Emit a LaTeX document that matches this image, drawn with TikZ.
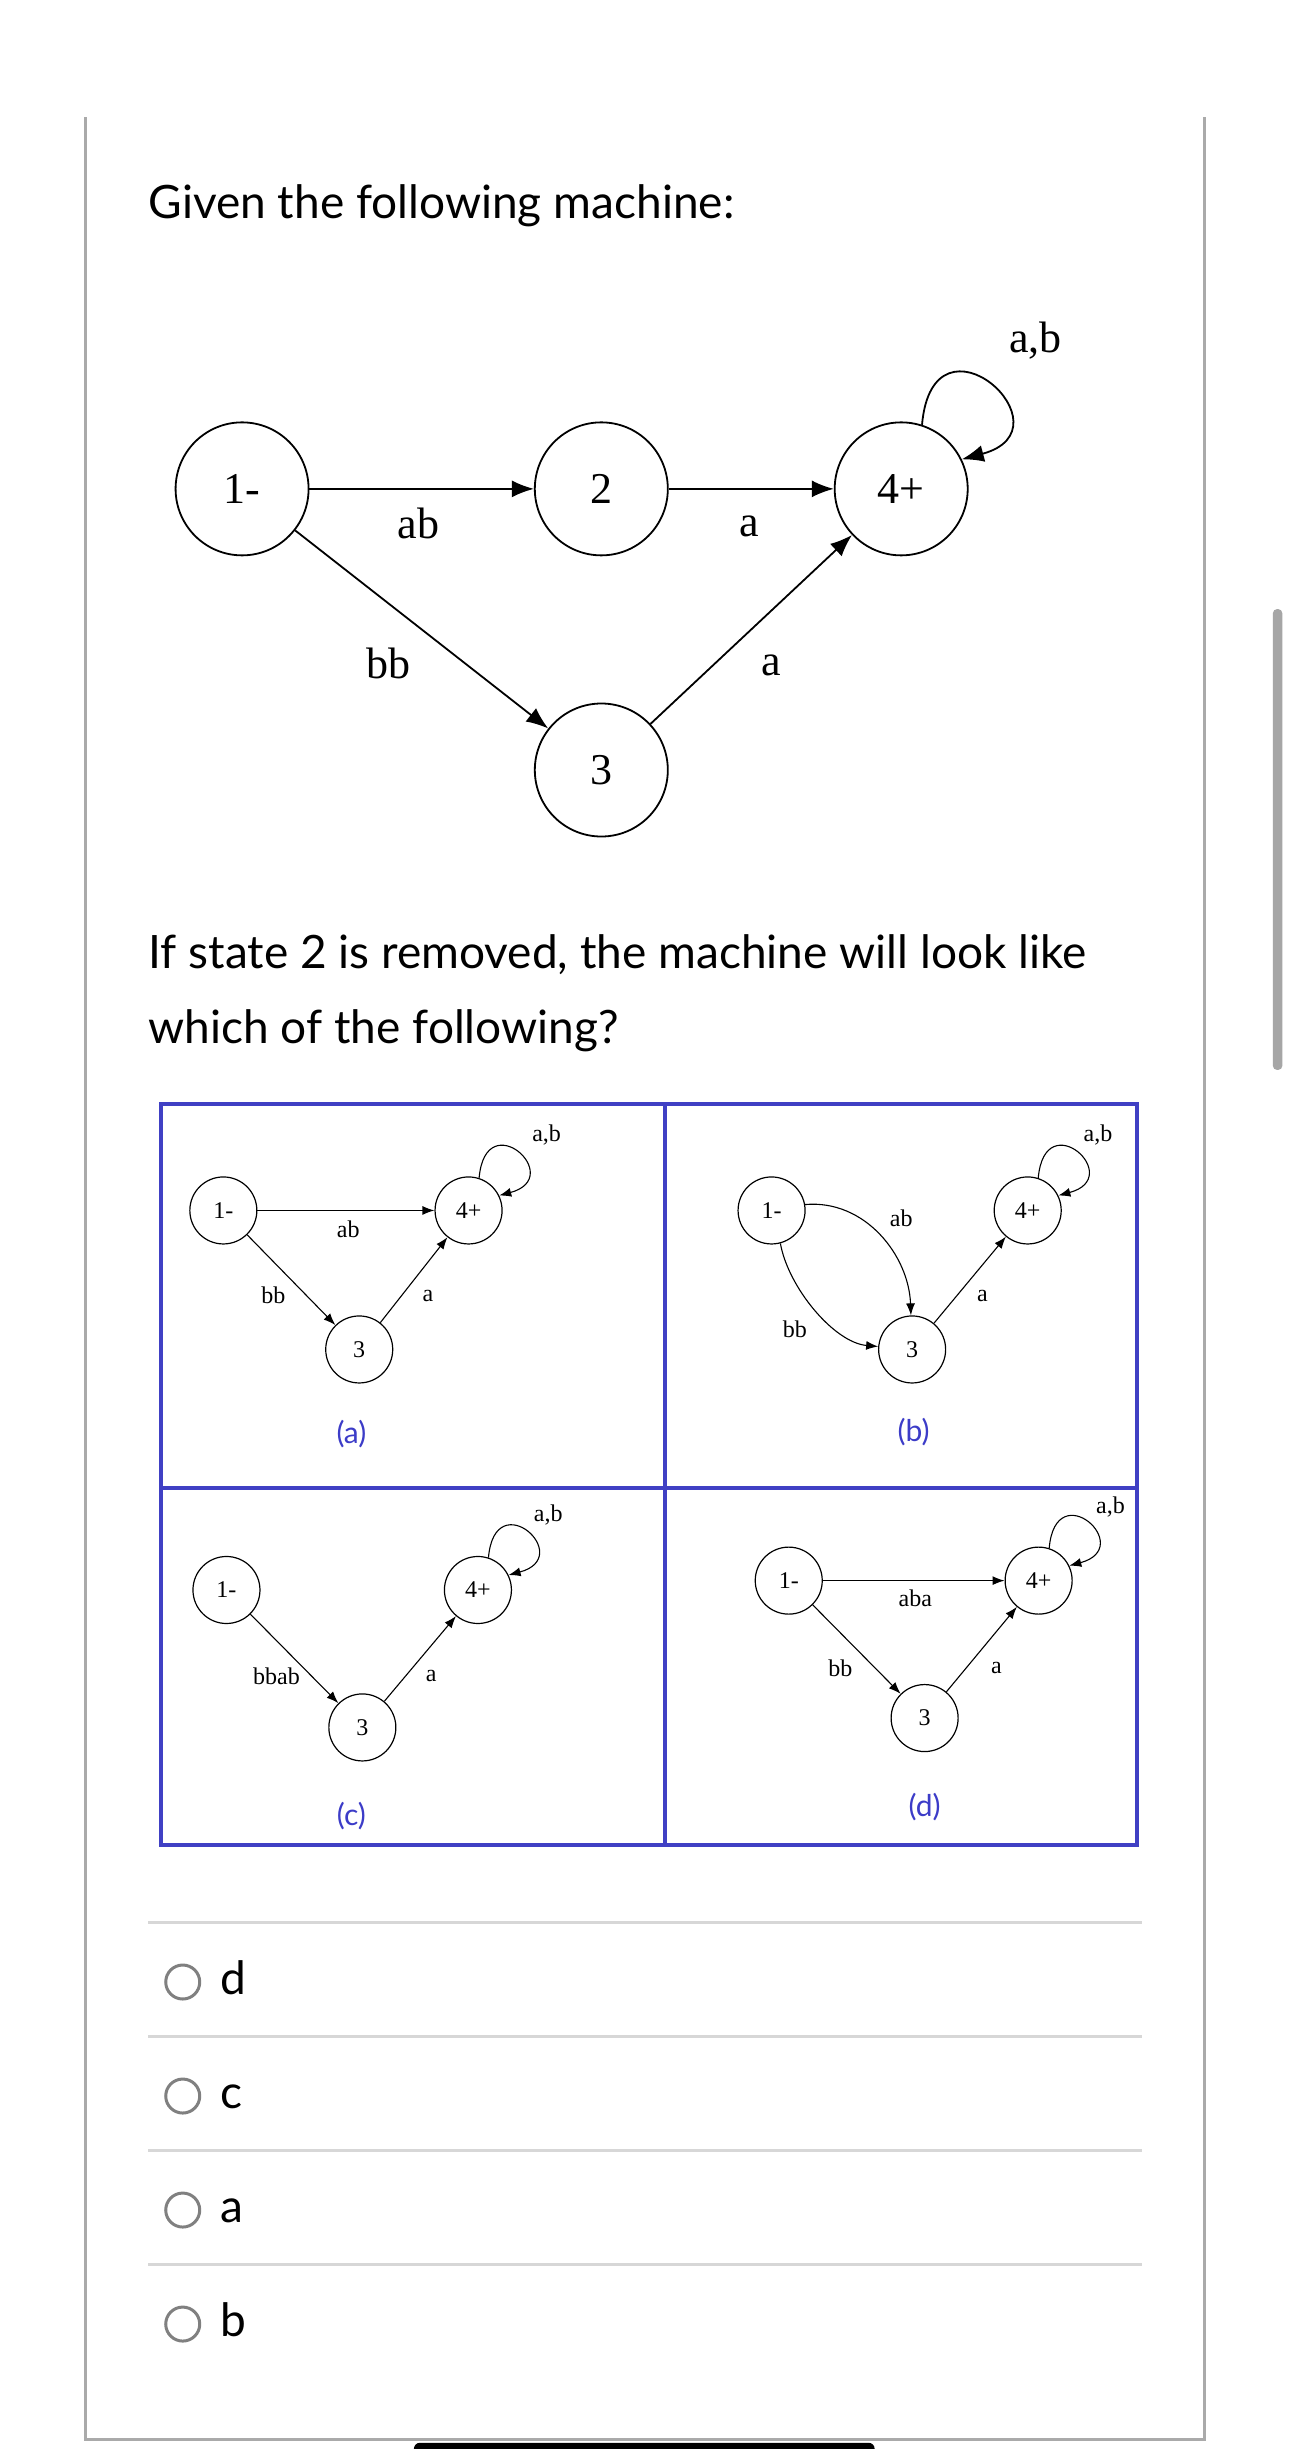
\documentclass[tikz,border=0pt]{standalone}
\usepackage{fontspec}
\setmainfont{Lato}
\newfontfamily\tms{Liberation Serif}
\usetikzlibrary{arrows.meta}
\definecolor{gridblue}{RGB}{64,64,196}
\definecolor{lblblue}{RGB}{60,60,200}
\definecolor{framegray}{RGB}{170,170,170}
\definecolor{sepgray}{RGB}{215,215,215}
\tikzset{
  bigst/.style={circle,draw,line width=1.8pt,minimum size=133pt,inner sep=0pt,font=\tms\fontsize{44}{44}\selectfont},
  smst/.style={circle,draw,line width=1.2pt,minimum size=67pt,inner sep=0pt,font=\tms\fontsize{24}{24}\selectfont},
  bigarr/.style={line width=1.8pt,-{Latex[length=22pt,width=17pt]}},
  smarr/.style={line width=1.1pt,-{Latex[length=12pt,width=9pt]}},
  biglbl/.style={font=\tms\fontsize{44}{44}\selectfont},
  smlbl/.style={font=\tms\fontsize{24}{24}\selectfont},
  bigtxt/.style={font=\fontsize{46}{55}\selectfont,anchor=base west,inner sep=0pt},
  panlbl/.style={font=\fontsize{30}{30}\selectfont,text=lblblue},
  radio/.style={circle,draw=gray,line width=3pt,minimum size=34pt,inner sep=0pt},
}
\begin{document}
\begin{tikzpicture}[x=1.5617pt,y=1.5617pt]
\useasboundingbox[fill=white] (0,0) rectangle (826,-1568);
% frame
\draw[framegray,line width=3pt] (55,-75) -- (55,-1562) -- (771,-1562) -- (771,-75);
\fill[gray!70,rounded corners=4pt] (815,-390) rectangle (821,-685);
\fill[black,rounded corners=6pt] (265,-1564) rectangle (560,-1576);
% title
\node[bigtxt] (t1) at (95,-140) {Given the following machine:};
% main machine
\node[bigst] (m1) at (155,-313) {1-};
\node[bigst] (m2) at (385,-313) {2};
\node[bigst] (m4) at (577,-313) {4+};
\node[bigst] (m3) at (385,-493) {3};
\draw[bigarr] (m1) -- (m2);
\draw[bigarr] (m2) -- (m4);
\draw[bigarr] (m1) -- (m3);
\draw[bigarr] (m3) -- (m4);
\draw[bigarr] (m4.72) .. controls +(85:80) and +(15:75) .. (m4.26);
\node[biglbl] (l1) at (268,-335) {ab};
\node[biglbl] (l2) at (480,-337) {a};
\node[biglbl] (l3) at (249,-425) {bb};
\node[biglbl] (l4) at (494,-426) {a};
\node[biglbl] (l5) at (663,-218) {a,b};
% question
\node[bigtxt] (t2) at (95,-620) {If state 2 is removed, the machine will look like};
\node[bigtxt] (t3) at (95,-668) {which of the following?};
% grid
\draw[gridblue,line width=4pt] (103,-707) rectangle (728,-1181);
\draw[gridblue,line width=4pt] (426,-707) -- (426,-1181);
\draw[gridblue,line width=4pt] (103,-953) -- (728,-953);
% panel a
\node[smst] (a1) at (143,-775) {1-};
\node[smst] (a4) at (300,-775) {4+};
\node[smst] (a3) at (230,-864) {3};
\draw[smarr] (a1) -- (a4);
\draw[smarr] (a1) -- (a3);
\draw[smarr] (a3) -- (a4);
\draw[smarr] (a4.72) .. controls +(85:48) and +(15:45) .. (a4.26);
\node[smlbl] (la1) at (223,-787) {ab};
\node[smlbl] (la2) at (175,-829) {bb};
\node[smlbl] (la3) at (274,-830) {a};
\node[smlbl] (la4) at (350,-727) {a,b};
\node[panlbl] (pa) at (225,-918) {(a)};
% panel b
\node[smst] (b1) at (494,-775) {1-};
\node[smst] (b4) at (658,-775) {4+};
\node[smst] (b3) at (584,-864) {3};
\draw[smarr] (b1.10) to[out=5,in=92] (b3.92);
\draw[smarr] (b1.-75) to[out=-80,in=175,looseness=0.8] (b3.175);
\draw[smarr] (b3) -- (b4);
\draw[smarr] (b4.72) .. controls +(85:48) and +(15:45) .. (b4.26);
\node[smlbl] (lb1) at (577,-780) {ab};
\node[smlbl] (lb2) at (509,-851) {bb};
\node[smlbl] (lb3) at (629,-830) {a};
\node[smlbl] (lb4) at (703,-727) {a,b};
\node[panlbl] (pb) at (585,-917) {(b)};
% panel c
\node[smst] (c1) at (145,-1018) {1-};
\node[smst] (c4) at (306,-1018) {4+};
\node[smst] (c3) at (232,-1106) {3};
\draw[smarr] (c1) -- (c3);
\draw[smarr] (c3) -- (c4);
\draw[smarr] (c4.72) .. controls +(85:48) and +(15:45) .. (c4.26);
\node[smlbl] (lc1) at (177,-1073) {bbab};
\node[smlbl] (lc2) at (276,-1073) {a};
\node[smlbl] (lc3) at (351,-970) {a,b};
\node[panlbl] (pc) at (225,-1163) {(c)};
% panel d
\node[smst] (d1) at (505,-1012) {1-};
\node[smst] (d4) at (665,-1012) {4+};
\node[smst] (d3) at (592,-1100) {3};
\draw[smarr] (d1) -- (d4);
\draw[smarr] (d1) -- (d3);
\draw[smarr] (d3) -- (d4);
\draw[smarr] (d4.72) .. controls +(85:48) and +(15:45) .. (d4.26);
\node[smlbl] (ld1) at (586,-1023) {aba};
\node[smlbl] (ld2) at (538,-1068) {bb};
\node[smlbl] (ld3) at (638,-1068) {a};
\node[smlbl] (ld4) at (711,-965) {a,b};
\node[panlbl] (pd) at (592,-1157) {(d)};
% options
\draw[sepgray,line width=2.5pt] (95,-1231) -- (731,-1231);
\draw[sepgray,line width=2.5pt] (95,-1304) -- (731,-1304);
\draw[sepgray,line width=2.5pt] (95,-1377) -- (731,-1377);
\draw[sepgray,line width=2.5pt] (95,-1450) -- (731,-1450);
\node[radio] (r1) at (117,-1269) {};
\node[radio] (r2) at (117,-1342) {};
\node[radio] (r3) at (117,-1415) {};
\node[radio] (r4) at (117,-1488) {};
\node[bigtxt] (o1) at (141,-1277) {d};
\node[bigtxt] (o2) at (141,-1350) {c};
\node[bigtxt] (o3) at (141,-1423) {a};
\node[bigtxt] (o4) at (141,-1496) {b};
\end{tikzpicture}
\end{document}
